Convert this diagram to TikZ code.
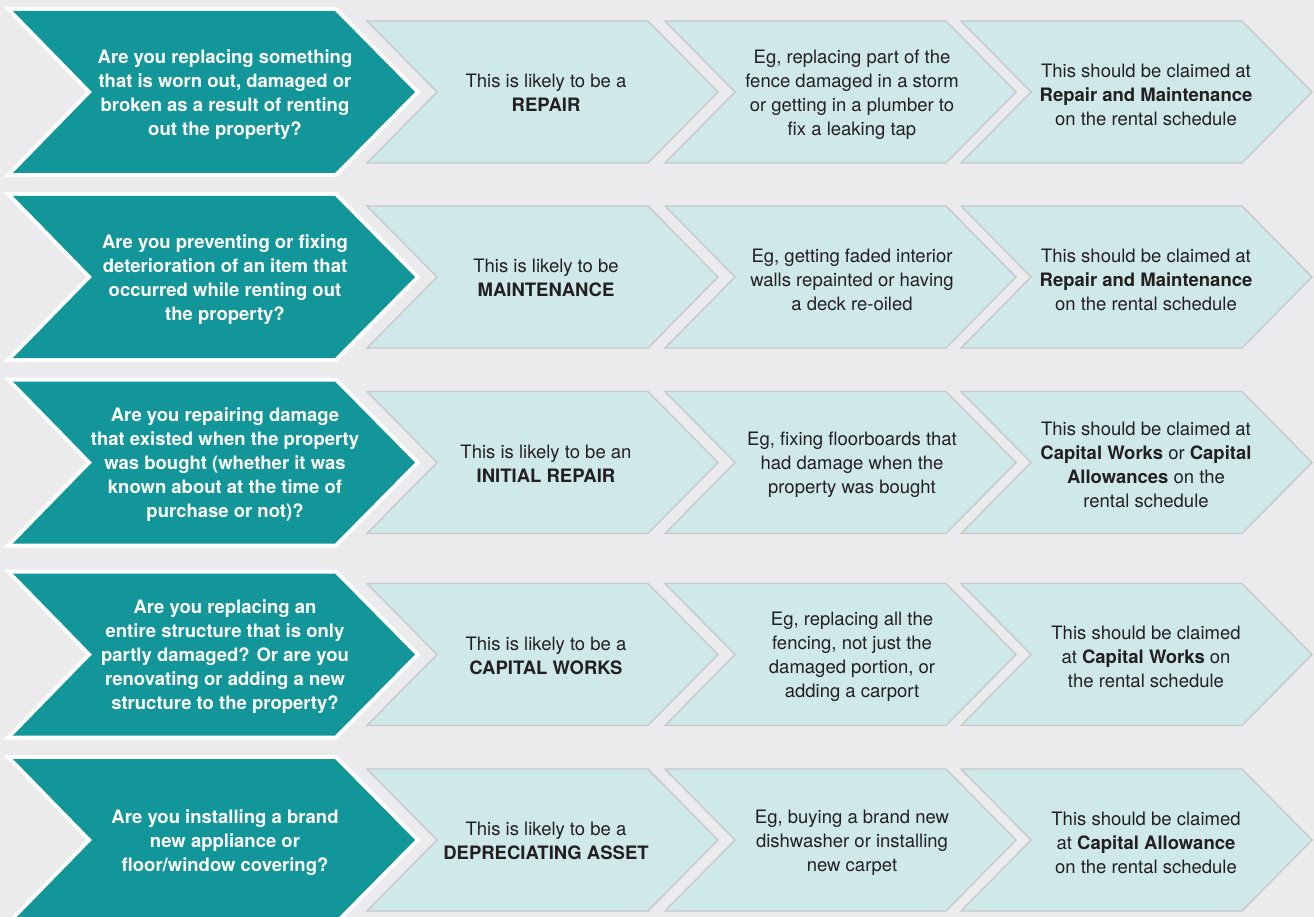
\documentclass[tikz,border=0pt]{standalone}
\usepackage{fontspec}
\setmainfont{TeX Gyre Heros}
\definecolor{bgc}{HTML}{EBEBED}
\definecolor{tealc}{HTML}{12969A}
\definecolor{lightc}{HTML}{CFE9EA}
\definecolor{edgec}{HTML}{C6C8CA}
\definecolor{txtc}{HTML}{231F20}
\tikzset{
  qtext/.style={text=white, align=center, inner sep=0pt, yshift=-2.5pt, font=\fontsize{18.5}{24}\selectfont\bfseries},
  atext/.style={text=txtc, align=center, inner sep=0pt, yshift=-2.5pt, font=\fontsize{18.5}{24}\selectfont},
  ttext/.style={atext, yshift=1.5pt},
  tealchev/.pic={
    \path[draw=white, line width=8pt, line join=miter, fill=tealc]
      (13,-81) -- (335,-81) -- (415,0) -- (335,81) -- (13,81) -- (92,0) -- cycle;
    \fill[tealc] (13,-81) -- (335,-81) -- (415,0) -- (335,81) -- (13,81) -- (92,0) -- cycle;
  },
  lightchev/.pic={
    \path[draw=edgec, line width=1.4pt, line join=miter, fill=lightc]
      (0,-71) -- (281,-71) -- (351,0) -- (281,71) -- (0,71) -- (70,0) -- cycle;
  }
}
\begin{document}
\begin{tikzpicture}[x=1pt, y=-1pt]
\useasboundingbox (0,0) rectangle (1314,917);
\clip (0,0) rectangle (1314,917);
\fill[bgc] (0,0) rectangle (1314,917);
% chevrons
\foreach \c in {92,277,462.5,654.5,840}{
  \pic at (0,\c) {tealchev};
  \pic at (367,\c) {lightchev};
  \pic at (665,\c) {lightchev};
  \pic at (961,\c) {lightchev};
}
% row 1
\node[qtext] (q1) at (225,92) {Are you replacing something\\that is worn out, damaged or\\broken as a result of renting\\out the property?};
\node[ttext] (t1) at (546,92) {This is likely to be a\\\textbf{REPAIR}};
\node[atext] (e1) at (852,92) {Eg, replacing part of the\\fence damaged in a storm\\or getting in a plumber to\\fix a leaking tap};
\node[atext] (c1) at (1146,92) {This should be claimed at\\\textbf{Repair and Maintenance}\\on the rental schedule};
% row 2
\node[qtext] (q2) at (225,277) {Are you preventing or fixing\\deterioration of an item that\\occurred while renting out\\the property?};
\node[ttext] (t2) at (546,277) {This is likely to be\\\textbf{MAINTENANCE}};
\node[atext] (e2) at (852,277) {Eg, getting faded interior\\walls repainted or having\\a deck re-oiled};
\node[atext] (c2) at (1146,277) {This should be claimed at\\\textbf{Repair and Maintenance}\\on the rental schedule};
% row 3
\node[qtext] (q3) at (225,462.5) {Are you repairing damage\\that existed when the property\\was bought (whether it was\\known about at the time of\\purchase or not)?};
\node[ttext] (t3) at (546,462.5) {This is likely to be an\\\textbf{INITIAL REPAIR}};
\node[atext] (e3) at (852,462.5) {Eg, fixing floorboards that\\had damage when the\\property was bought};
\node[atext] (c3) at (1146,462.5) {This should be claimed at\\\textbf{Capital Works} or \textbf{Capital}\\\textbf{Allowances} on the\\rental schedule};
% row 4
\node[qtext] (q4) at (225,654.5) {Are you replacing an\\entire structure that is only\\partly damaged? Or are you\\renovating or adding a new\\structure to the property?};
\node[ttext] (t4) at (546,654.5) {This is likely to be a\\\textbf{CAPITAL WORKS}};
\node[atext] (e4) at (852,654.5) {Eg, replacing all the\\fencing, not just the\\damaged portion, or\\adding a carport};
\node[atext] (c4) at (1146,654.5) {This should be claimed\\at \textbf{Capital Works} on\\the rental schedule};
% row 5
\node[qtext] (q5) at (225,840) {Are you installing a brand\\new appliance or\\floor/window covering?};
\node[ttext] (t5) at (546,840) {This is likely to be a\\\textbf{DEPRECIATING ASSET}};
\node[atext] (e5) at (852,840) {Eg, buying a brand new\\dishwasher or installing\\new carpet};
\node[atext] (c5) at (1146,840) {This should be claimed\\at \textbf{Capital Allowance}\\on the rental schedule};
\end{tikzpicture}
\end{document}
